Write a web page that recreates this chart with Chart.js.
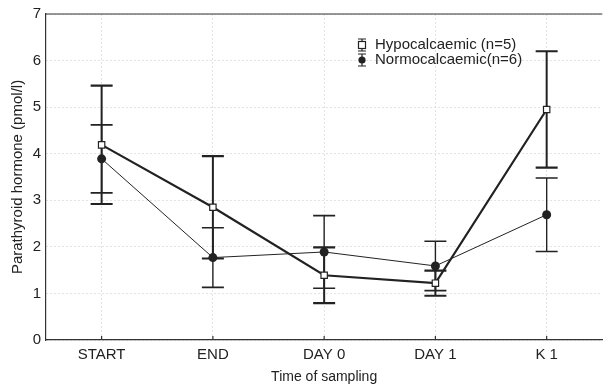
<!DOCTYPE html>
<html lang="en">
<head>
    <meta charset="UTF-8">
    <title>Parathyroid hormone</title>
    <style>
        body {
            margin: 0;
            background: #fff;
        }
        #chartContainer {
            width: 608px;
            height: 386px;
        }
    </style>
</head>
<body>

<div id="chartContainer">
    <canvas id="pthChart"></canvas>
</div>

<script src="https://cdn.jsdelivr.net/npm/chart.js"></script>
<script>
    const categories = ['START', 'END', 'DAY 0', 'DAY 1', 'K 1'];
    const seriesNames = ['Hypocalcaemic (n=5)', 'Normocalcaemic(n=6)'];
    const hypoMean = [4.19, 2.85, 1.39, 1.22, 4.95];
    const hypoErr = [1.27, 1.10, 0.60, 0.27, 1.25];
    const normoMean = [3.89, 1.77, 1.89, 1.59, 2.69];
    const normoErr = [0.73, 0.64, 0.78, 0.53, 0.79];
    const yTicks = [0, 1, 2, 3, 4, 5, 6, 7];

    const ink = '#222';
    const fontFamily = '"Liberation Sans", Arial, sans-serif';

    // error bars + frame + inner x ticks + legend
    const errorBars = {
        id: 'errorBars',
        beforeDatasetsDraw(chart) {
            const ctx = chart.ctx;
            const x = chart.scales.x;
            const y = chart.scales.y;
            const sets = [
                { mean: hypoMean, err: hypoErr, w: 2, cap: 2.2 },
                { mean: normoMean, err: normoErr, w: 1.4, cap: 1.6 }
            ];
            ctx.save();
            ctx.strokeStyle = ink;
            sets.forEach(s => {
                s.mean.forEach((m, i) => {
                    const px = x.getPixelForValue(i);
                    const top = y.getPixelForValue(m + s.err[i]);
                    const bot = y.getPixelForValue(m - s.err[i]);
                    ctx.lineWidth = s.w;
                    ctx.beginPath();
                    ctx.moveTo(px, top);
                    ctx.lineTo(px, bot);
                    ctx.stroke();
                    ctx.lineWidth = s.cap;
                    ctx.beginPath();
                    ctx.moveTo(px - 11, top);
                    ctx.lineTo(px + 11, top);
                    ctx.moveTo(px - 11, bot);
                    ctx.lineTo(px + 11, bot);
                    ctx.stroke();
                });
            });
            ctx.restore();
        },
        afterDraw(chart) {
            const ctx = chart.ctx;
            const a = chart.chartArea;
            const x = chart.scales.x;
            ctx.save();
            ctx.strokeStyle = '#333';
            ctx.lineWidth = 1.2;
            ctx.beginPath();
            ctx.moveTo(a.left, a.top);
            ctx.lineTo(a.right, a.top);
            categories.forEach((c, i) => {
                const px = x.getPixelForValue(i);
                ctx.moveTo(px, a.bottom);
                ctx.lineTo(px, a.bottom - 4);
            });
            ctx.stroke();

            // legend
            const lx = 362;
            const rows = [45, 60];
            ctx.font = '15px ' + fontFamily;
            ctx.textBaseline = 'middle';
            rows.forEach((ry, k) => {
                ctx.strokeStyle = ink;
                ctx.lineWidth = 1.2;
                ctx.beginPath();
                ctx.moveTo(lx - 4, ry - 6);
                ctx.lineTo(lx + 4, ry - 6);
                ctx.moveTo(lx - 4, ry + 6);
                ctx.lineTo(lx + 4, ry + 6);
                ctx.moveTo(lx, ry - 6);
                ctx.lineTo(lx, ry + 6);
                ctx.stroke();
                if (k === 0) {
                    ctx.fillStyle = '#fff';
                    ctx.fillRect(lx - 3.5, ry - 3.5, 7, 7);
                    ctx.strokeRect(lx - 3.5, ry - 3.5, 7, 7);
                } else {
                    ctx.fillStyle = ink;
                    ctx.beginPath();
                    ctx.arc(lx, ry, 3.6, 0, Math.PI * 2);
                    ctx.fill();
                }
                ctx.fillStyle = ink;
                ctx.textAlign = 'left';
                ctx.fillText(seriesNames[k], lx + 13, ry);
            });
            ctx.restore();
        }
    };

    const ctx = document.getElementById('pthChart').getContext('2d');
    new Chart(ctx, {
        type: 'line',
        data: {
            labels: categories,
            datasets: [{
                label: seriesNames[0],
                data: hypoMean,
                borderColor: ink,
                borderWidth: 2.2,
                pointStyle: 'rect',
                pointRadius: 4.5,
                pointBackgroundColor: '#fff',
                pointBorderColor: ink,
                pointBorderWidth: 1.2,
                tension: 0
            }, {
                label: seriesNames[1],
                data: normoMean,
                borderColor: ink,
                borderWidth: 1,
                pointStyle: 'circle',
                pointRadius: 4.5,
                pointBackgroundColor: ink,
                pointBorderColor: ink,
                pointBorderWidth: 0,
                tension: 0
            }]
        },
        options: {
            responsive: true,
            maintainAspectRatio: false,
            animation: false,
            layout: { padding: { top: 11, right: 0, left: 0, bottom: 0 } },
            plugins: {
                legend: { display: false },
                tooltip: { enabled: false }
            },
            scales: {
                x: {
                    type: 'category',
                    offset: true,
                    afterFit(scale) { scale.height = 46; },
                    grid: {
                        offset: false,
                        color: '#e2e2e2',
                        drawTicks: false
                    },
                    border: { display: true, color: '#333', width: 1.2, dash: [2, 2] },
                    ticks: {
                        color: ink,
                        padding: 6,
                        font: { family: fontFamily, size: 15 }
                    },
                    title: {
                        display: true,
                        text: 'Time of sampling',
                        color: ink,
                        padding: { top: 2, bottom: 0 },
                        font: { family: fontFamily, size: 14 }
                    }
                },
                y: {
                    min: 0,
                    max: 7,
                    afterFit(scale) { scale.width = 46; },
                    afterBuildTicks(scale) {
                        scale.ticks = yTicks.map(v => ({ value: v }));
                    },
                    grid: {
                        color: '#e2e2e2',
                        drawTicks: false
                    },
                    border: { display: true, color: '#333', width: 1.2, dash: [2, 2] },
                    ticks: {
                        color: ink,
                        padding: 5,
                        font: { family: fontFamily, size: 15 }
                    },
                    title: {
                        display: true,
                        text: 'Parathyroid hormone (pmol/l)',
                        color: ink,
                        padding: { top: 9, bottom: 0 },
                        font: { family: fontFamily, size: 15 }
                    }
                }
            }
        },
        plugins: [errorBars]
    });
</script>

</body>
</html>
